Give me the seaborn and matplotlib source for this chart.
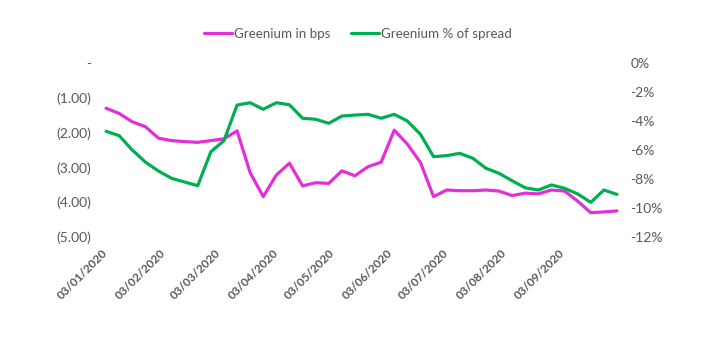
import matplotlib
matplotlib.use("Agg")
import matplotlib.pyplot as plt
import matplotlib.dates as mdates
from matplotlib.ticker import FuncFormatter, FixedLocator
import pandas as pd
import seaborn as sns

# Weekly observations starting on Friday 3 January 2020
start_date = "2020-01-03"
n_weeks = 40

greenium_bps = [
    -1.30, -1.45, -1.69, -1.83, -2.16, -2.23, -2.26, -2.28, -2.23, -2.18,
    -1.95, -3.15, -3.84, -3.22, -2.88, -3.53, -3.44, -3.46, -3.10, -3.24,
    -2.98, -2.85, -1.93, -2.33, -2.86, -3.84, -3.65, -3.67, -3.67, -3.65,
    -3.68, -3.81, -3.74, -3.76, -3.65, -3.68, -3.97, -4.30, -4.28, -4.25,
]

greenium_pct_spread = [
    -4.71, -5.01, -6.00, -6.83, -7.45, -7.95, -8.21, -8.46, -6.12, -5.36,
    -2.90, -2.74, -3.19, -2.74, -2.88, -3.81, -3.88, -4.16, -3.66, -3.59,
    -3.54, -3.81, -3.54, -4.00, -4.92, -6.46, -6.39, -6.23, -6.57, -7.26,
    -7.61, -8.12, -8.61, -8.76, -8.41, -8.64, -9.03, -9.61, -8.76, -9.06,
]

date_labels = [
    "03/01/2020", "03/02/2020", "03/03/2020", "03/04/2020", "03/05/2020",
    "03/06/2020", "03/07/2020", "03/08/2020", "03/09/2020",
]

left_ticks = [0, -1, -2, -3, -4, -5]
right_ticks = [0, -2, -4, -6, -8, -10, -12]

MAGENTA = "#E42ED8"
GREEN = "#00B050"
TEXT = "#595959"

dates = pd.date_range(start_date, periods=n_weeks, freq="7D")
df = pd.DataFrame({
    "date": dates,
    "bps": greenium_bps,
    "pct": greenium_pct_spread,
})

sns.set_style("white")
plt.rcParams["font.family"] = ["Lato", "DejaVu Sans"]
plt.rcParams["font.size"] = 10

fig = plt.figure(figsize=(7.10, 3.49), dpi=100)
ax = fig.add_axes([99.5 / 710, 1 - 237 / 349, (623.5 - 99.5) / 710, (237 - 63) / 349])
ax2 = ax.twinx()

sns.lineplot(data=df, x="date", y="bps", ax=ax, color=MAGENTA,
             linewidth=2.3, label="Greenium in bps", legend=False)
sns.lineplot(data=df, x="date", y="pct", ax=ax2, color=GREEN,
             linewidth=2.3, label="Greenium % of spread", legend=False)

for a in (ax, ax2):
    a.set_xlabel("")
    a.set_ylabel("")
    for s in a.spines.values():
        s.set_visible(False)
    a.grid(False)

def bps_fmt(v, pos):
    if abs(v) < 1e-9:
        return "-"
    return f"({abs(v):.2f})" if v < 0 else f"{v:.2f}"

ax.yaxis.set_major_locator(FixedLocator(left_ticks))
ax.yaxis.set_major_formatter(FuncFormatter(bps_fmt))
ax2.yaxis.set_major_locator(FixedLocator(right_ticks))
ax2.yaxis.set_major_formatter(FuncFormatter(lambda v, p: f"{v:.0f}%".replace("\u2212", "-")))

# monthly date ticks on the 3rd of each month
tick_dates = pd.to_datetime(date_labels, format="%d/%m/%Y")
ax.set_xticks(mdates.date2num(tick_dates))
ax.set_xticklabels(date_labels, rotation=45, ha="right", va="center",
                   rotation_mode="anchor", fontweight="bold")

half_week = pd.Timedelta(days=3.5)
ax.set_xlim(mdates.date2num(dates[0] - half_week), mdates.date2num(dates[-1] + half_week))
ax.set_ylim(-5, 0)
ax2.set_ylim(-12, 0)

ax.tick_params(axis="x", length=0, pad=10.5, labelsize=8.6, colors=TEXT)
ax.tick_params(axis="y", length=0, pad=6, labelsize=10, colors=TEXT)
ax2.tick_params(axis="y", length=0, pad=5, labelsize=10, colors=TEXT)

h1, l1 = ax.get_legend_handles_labels()
h2, l2 = ax2.get_legend_handles_labels()
fig.legend(h1 + h2, l1 + l2, loc="center", bbox_to_anchor=(358 / 710, 1 - 34 / 349),
           ncol=2, frameon=False, handlelength=2.1, handletextpad=0.15,
           columnspacing=1.6, fontsize=9.6, labelcolor=TEXT)

fig.savefig("out.png", dpi=100)
